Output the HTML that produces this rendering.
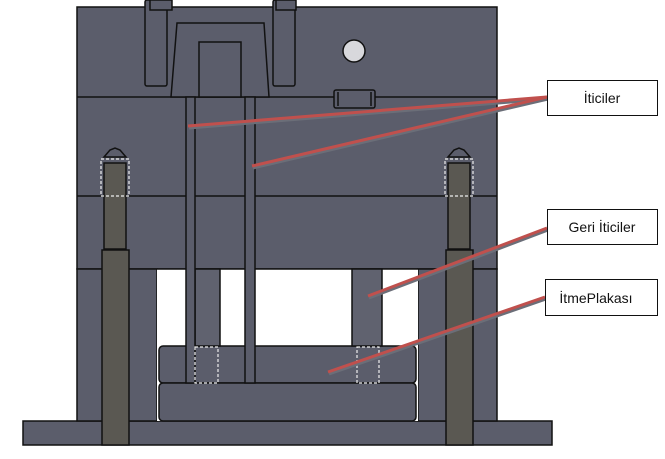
<!DOCTYPE html>
<html><head><meta charset="utf-8"><style>
html,body{margin:0;padding:0;background:#fff;width:665px;height:459px;overflow:hidden}
svg{display:block}
text{font-family:"Liberation Sans","DejaVu Sans",sans-serif;font-size:14px;fill:#111}
</style></head><body>
<svg width="665" height="459" viewBox="0 0 665 459" xmlns="http://www.w3.org/2000/svg">
<g stroke="#111" stroke-width="1.5" fill="#5b5d6b">
<!-- base plate -->
<rect x="23" y="421" width="529" height="24"/>
<!-- main body upper -->
<rect x="77" y="7" width="420" height="262"/>
<!-- lower columns -->
<rect x="77" y="269" width="80" height="152"/>
<rect x="418" y="269" width="79" height="152"/>
<!-- opening -->
<rect x="157" y="269" width="261" height="152" fill="#fff" stroke="none"/>
<line x1="157" y1="269" x2="418" y2="269"/>
<!-- ejector plates -->
<rect x="159" y="346" width="257" height="37" rx="4"/>
<rect x="159" y="383" width="257" height="38" rx="4"/>
<!-- horizontal lines -->
<line x1="77" y1="97" x2="497" y2="97"/>
<line x1="77" y1="196" x2="497" y2="196"/>
<!-- top features -->
<rect x="145" y="0" width="22" height="86" rx="2"/>
<rect x="150" y="0" width="22" height="10"/>
<rect x="273" y="0" width="22" height="86" rx="2"/>
<rect x="276" y="0" width="20" height="10"/>
<polygon points="177,23 264,23 269,97 171,97"/>
<rect x="199" y="42" width="42" height="55"/>
<circle cx="354" cy="51" r="11" fill="#d8d8dc"/>
<rect x="334" y="90" width="41" height="18" rx="2"/>
<line x1="338" y1="92" x2="338" y2="106"/>
<line x1="371" y1="92" x2="371" y2="106"/>
<!-- return pins -->
<rect x="195" y="269" width="25" height="77" fill="#60626f"/>
<rect x="352" y="269" width="30" height="77" fill="#60626f"/>
<!-- ejector pins -->
<rect x="186" y="97" width="9" height="286"/>
<rect x="245" y="97" width="10" height="286"/>
<!-- guide rods -->
<rect x="102" y="250" width="27" height="195" fill="#5a5852"/>
<rect x="446" y="250" width="27" height="195" fill="#5a5852"/>
<rect x="104" y="163" width="22" height="86" fill="#5a5852"/>
<rect x="448" y="163" width="22" height="86" fill="#5a5852"/>
<polygon points="104,157 110,150 115,148 120,150 126,157" fill="#5b5d6b"/>
<polygon points="448,157 454,150 459,148 464,150 470,157" fill="#5b5d6b"/>
</g>
<g fill="none" stroke-width="1.2" stroke-dasharray="3,2">
<rect x="101" y="159" width="28" height="37" stroke="#eee"/>
<rect x="445" y="159" width="28" height="37" stroke="#eee"/>
<rect x="195" y="347" width="23" height="36" stroke="#eee"/>
<rect x="357" y="347" width="22" height="36" stroke="#eee"/>
</g>
<!-- leader lines -->
<g stroke-width="3" stroke-linecap="butt">
<g stroke="#6b6e78" transform="translate(1,2)">
<line x1="547" y1="97" x2="188" y2="126"/>
<line x1="547" y1="97" x2="252" y2="166"/>
<line x1="547" y1="228" x2="368" y2="296"/>
<line x1="545" y1="297" x2="328" y2="372"/>
</g>
<g stroke="#c0504d">
<line x1="547" y1="97" x2="188" y2="126"/>
<line x1="547" y1="97" x2="252" y2="166"/>
<line x1="547" y1="228" x2="368" y2="296"/>
<line x1="545" y1="297" x2="328" y2="372"/>
</g>
</g>
<g fill="#fff" stroke="#111" stroke-width="1">
<rect x="547.5" y="80.5" width="110" height="35"/>
<rect x="547.5" y="209.5" width="110" height="35"/>
<rect x="545.5" y="279.5" width="112" height="36"/>
</g>
<text x="602" y="103" text-anchor="middle">İticiler</text>
<text x="602" y="232" text-anchor="middle">Geri İticiler</text>
<text x="596" y="303" text-anchor="middle">İtmePlakası</text>
</svg>
</body></html>
